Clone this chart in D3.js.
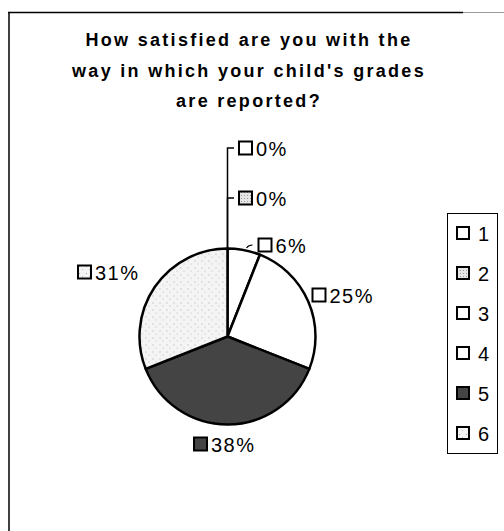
<!DOCTYPE html>
<html>
<head>
<meta charset="utf-8">
<script src="https://cdn.jsdelivr.net/npm/d3@7"></script>
<style>
  html, body { margin: 0; padding: 0; background: #fff; }
  svg { display: block; }
</style>
</head>
<body>
<script>
// Survey answers: share of respondents per rating
const categories = ["1", "2", "3", "4", "5", "6"];
const shares = [0, 0, 6, 25, 38, 31];
const valueLabels = ["0%", "0%", "6%", "25%", "38%", "31%"];
const titleLines = [
  "How satisfied are you with the",
  "way in which your child's grades",
  "are reported?"
];

const W = 504, H = 531;
const svg = d3.select("body").append("svg").attr("width", W).attr("height", H);

// fills for each rating
const defs = svg.append("defs");
const dots = defs.append("pattern").attr("id", "dotted").attr("patternUnits", "userSpaceOnUse")
  .attr("width", 3).attr("height", 3);
dots.append("rect").attr("width", 3).attr("height", 3).attr("fill", "#e6e6e6");
dots.append("rect").attr("width", 1).attr("height", 1).attr("fill", "#9a9a9a");

const speck = defs.append("pattern").attr("id", "speck").attr("patternUnits", "userSpaceOnUse")
  .attr("width", 7).attr("height", 7);
speck.append("rect").attr("width", 7).attr("height", 7).attr("fill", "#f4f4f4");
speck.append("rect").attr("x", 2).attr("y", 1).attr("width", 1).attr("height", 1).attr("fill", "#a8a8a8");
speck.append("rect").attr("x", 5).attr("y", 4).attr("width", 1).attr("height", 1).attr("fill", "#bdbdbd");

const color = d3.scaleOrdinal().domain(categories)
  .range(["#ffffff", "url(#dotted)", "#ffffff", "#ffffff", "#444444", "url(#speck)"]);

// chart area frame (top and left edges)
svg.append("line").attr("x1", 8).attr("x2", 463).attr("y1", 12.5).attr("y2", 12.5)
  .attr("stroke", "#000").attr("stroke-width", 1.5);
svg.append("line").attr("x1", 463).attr("x2", 504).attr("y1", 12.5).attr("y2", 12.5)
  .attr("stroke", "#999").attr("stroke-width", 1);
svg.append("line").attr("x1", 9).attr("x2", 9).attr("y1", 12).attr("y2", H)
  .attr("stroke", "#000").attr("stroke-width", 1.5);

// title
const font = "'Liberation Sans', Arial, Helvetica, sans-serif";
svg.append("g").selectAll("text").data(titleLines).join("text")
  .attr("x", 249).attr("y", (d, i) => 46 + i * 30.5)
  .attr("text-anchor", "middle")
  .attr("font-family", font).attr("font-weight", "bold").attr("font-size", 18)
  .attr("letter-spacing", 2.3)
  .text(d => d);

// pie
const cx = 227.5, cy = 336.5, R = 88;
const pie = d3.pie().sort(null).value(d => d.value);
const arcs = pie(categories.map((c, i) => ({ cat: c, value: shares[i], label: valueLabels[i] })));
const arc = d3.arc().innerRadius(0).outerRadius(R);

const g = svg.append("g").attr("transform", `translate(${cx},${cy})`);
g.selectAll("path").data(arcs.filter(d => d.data.value > 0)).join("path")
  .attr("d", arc)
  .attr("fill", d => color(d.data.cat))
  .attr("stroke", "#000").attr("stroke-width", 2.5).attr("stroke-linejoin", "round");

// data label placement, relative to the pie centre (box left edge, row centre)
const labelPos = {
  "1": [10.5, -188.5],
  "2": [10.5, -138.5],
  "3": [30, -91.5],
  "4": [84, -41.5],
  "5": [-34.5, 107.5],
  "6": [-150.5, -64.5]
};

// leader lines for the labels of the empty slices and the small one
const lead = g.append("g").attr("fill", "none").attr("stroke", "#000").attr("stroke-width", 1.5);
arcs.filter(d => d.data.value === 0).forEach(d => {
  const [lx, ly] = labelPos[d.data.cat];
  lead.append("path").attr("d", `M0,${-R} V${ly} H${lx - 4}`);
});
{
  const [lx, ly] = labelPos["3"];
  lead.append("path").attr("d", `M${lx - 11},${ly + 3} Q${lx - 9},${ly} ${lx - 5},${ly}`)
    .attr("stroke-width", 1.2);
}

const box = 13;
const lab = g.append("g").selectAll("g").data(arcs).join("g")
  .attr("transform", d => `translate(${labelPos[d.data.cat][0]},${labelPos[d.data.cat][1]})`);
lab.append("rect").attr("x", 1).attr("y", -box / 2).attr("width", box).attr("height", box)
  .attr("fill", d => color(d.data.cat)).attr("stroke", "#000").attr("stroke-width", 2);
lab.append("text").attr("x", box + 5).attr("y", 7.5)
  .attr("font-family", font).attr("font-size", 20).attr("letter-spacing", 1.5)
  .text(d => d.data.label);

// legend
const legX = 447, legTop = 213, rowH = 40;
svg.append("rect").attr("x", legX + 0.5).attr("y", legTop + 0.5).attr("width", 50).attr("height", rowH * categories.length)
  .attr("fill", "#fff").attr("stroke", "#000").attr("stroke-width", 1);
const rows = svg.append("g").selectAll("g").data(categories).join("g")
  .attr("transform", (d, i) => `translate(${legX + 10},${legTop + rowH / 2 + i * rowH})`);
rows.append("rect").attr("x", 0).attr("y", -6).attr("width", 12).attr("height", 12)
  .attr("fill", d => color(d)).attr("stroke", "#000").attr("stroke-width", 2);
rows.append("text").attr("x", 21).attr("y", 7.5)
  .attr("font-family", font).attr("font-size", 20)
  .text(d => d);
</script>
</body>
</html>
